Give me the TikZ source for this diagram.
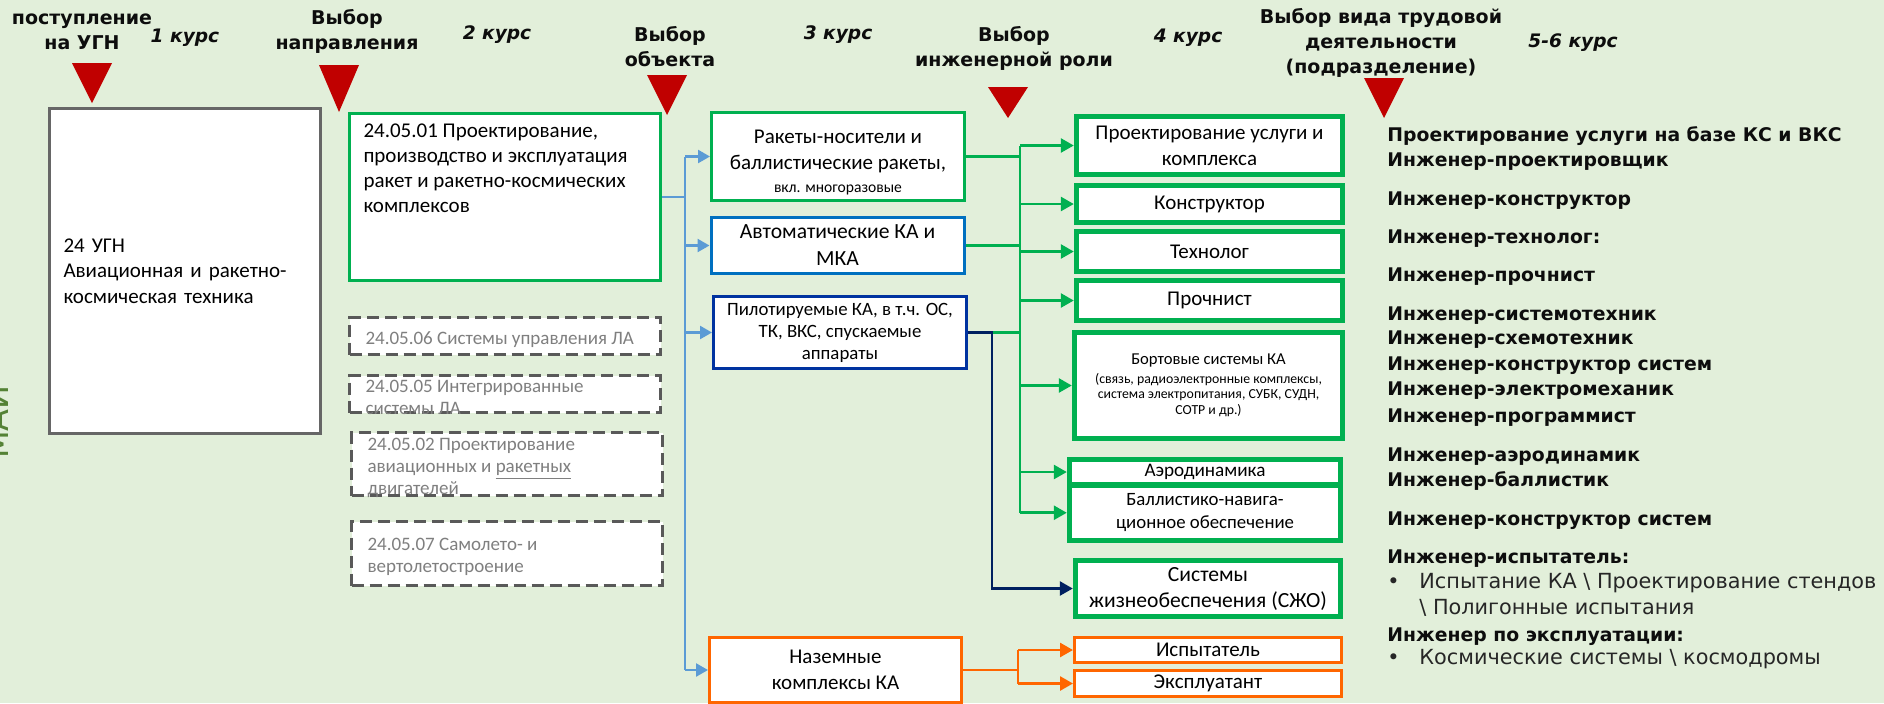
\documentclass[tikz,border=0pt]{standalone}
\usepackage{fontspec}
\setmainfont{Carlito}
\newfontfamily\cgfont{DejaVu Sans}
\usetikzlibrary{
  arrows.meta,
  positioning,
  calc
}
\definecolor{spBack}{HTML}{E2EFDA}
\definecolor{spMark}{HTML}{C00000}
\definecolor{spGreen}{HTML}{00B050}
\definecolor{spBlue}{HTML}{0070C0}
\definecolor{spPilot}{HTML}{0033A0}
\definecolor{spNavy}{HTML}{002060}
\definecolor{spLink}{HTML}{5B9BD5}
\definecolor{spOrange}{HTML}{FF6600}
\definecolor{spGray}{HTML}{666666}
\definecolor{spDash}{HTML}{595959}
\definecolor{spMute}{HTML}{7F7F7F}
\definecolor{spLogo}{HTML}{548235}
\newcommand{\fs}[2]{\fontsize{#1}{#2}\selectfont}
\newcommand{\opttext}[1]{\parbox[c][0pt][c]{139.5pt}{\raggedright\vspace*{6pt}#1}}
\tikzset{
  spbox/.style={
    draw, fill=white, align=center, inner xsep=2pt, inner ysep=1pt,
    font=\fs{10.5}{13}
  },
  ugnbox/.style={spbox, draw=spGray, line width=1.5pt, align=left},
  dirbox/.style={spbox, draw=spGreen, line width=1.5pt},
  optbox/.style={spbox, draw=spDash, line width=1.6pt, dash pattern=on 6pt off 3pt,
    text=spMute, inner xsep=8pt, inner ysep=0pt, minimum width=155.5pt, font=\fs{9.5}{11}},
  objbox/.style={spbox, line width=1.5pt, minimum width=126.5pt},
  rolebox/.style={spbox, draw=spGreen, line width=2.7pt, inner ysep=0pt, minimum width=133pt},
  workbox/.style={spbox, draw=spOrange, line width=1.5pt, inner ysep=0pt, minimum width=133.5pt},
  head/.style={font=\cgfont\bfseries\fs{9.5}{12.5}, align=center, text=black!95},
  year/.style={font=\cgfont\bfseries\itshape\fs{9.3}{12}, text=black!95},
  role/.style={anchor=west, inner sep=0pt, text height=7pt, text depth=2pt,
    font=\cgfont\bfseries\fs{9.4}{12.5}, text=black!95},
  roletxt/.style={role, font=\cgfont\fs{10.4}{12.5}, text=black!85},
  link/.style={line width=1.2pt, draw=spLink},
  linkarr/.style={link, -{Triangle[length=6pt, width=6.5pt]}},
  gline/.style={line width=1.3pt, draw=spGreen},
  garr/.style={gline, -{Triangle[length=6.5pt, width=7pt]}},
  nline/.style={line width=1.3pt, draw=spNavy},
  narr/.style={nline, -{Triangle[length=6.5pt, width=7pt]}},
  oline/.style={line width=1.3pt, draw=spOrange},
  oarr/.style={oline, -{Triangle[length=6.5pt, width=7pt]}}
}
\begin{document}
\begin{tikzpicture}[x=0.5pt, y=-0.5pt]
  \fill[spBack] (0,0) rectangle (1884,703);
  \useasboundingbox (0,0) rectangle (1884,703);

  % stages along the top
  \node[head] (hEnter) at (82,31.5) {поступление\\на УГН};
  \node[year] (y1) at (185,38) {1 курс};
  \node[head] (hDir) at (347,31.5) {Выбор\\направления};
  \node[year] (y2) at (497,35) {2 курс};
  \node[head] (hObj) at (670,46.5) {Выбор\\объекта};
  \node[year] (y3) at (838,35) {3 курс};
  \node[head] (hRole) at (1014,48.5) {Выбор\\инженерной роли};
  \node[year] (y4) at (1188,38) {4 курс};
  \node[head] (hWork) at (1381,42.5) {Выбор вида трудовой\\деятельности\\(подразделение)};
  \node[year] (y56) at (1573,43) {5-6 курс};
  \foreach \x/\t/\b in {92/63/103, 339/65/112, 667/75/115, 1008/87/118, 1384/78/118}
    \fill[spMark] (\x-20,\t) -- (\x+20,\t) -- (\x,\b) -- cycle;

  \node[rotate=90, anchor=base, inner sep=0pt, text=spLogo, font=\cgfont\fs{16}{16}] (logo) at (9,422) {МАИ};

  % first and second year
  \node[ugnbox, minimum width=135.5pt, minimum height=162.5pt, text width=121.5pt,
    inner xsep=7pt, font=\fs{10.5}{12.75}] (ugn) at (185,271)
    {24 УГН\\Авиационная и ракетно-\\космическая техника};
  \node[dirbox, minimum width=155.5pt, minimum height=83.5pt, inner xsep=7pt] (n2401) at (505,197)
    {\fs{10.5}{12.5}\parbox[c][78pt][t]{141.5pt}{\raggedright\vspace*{2.5pt}24.05.01 Проектирование,\\производство и эксплуатация\\ракет и ракетно-космических\\комплексов}};
  \node[optbox, minimum height=18.5pt] (n2406) at (505,336)
    {\opttext{24.05.06 Системы управления ЛА}};
  \node[optbox, minimum height=18.5pt] (n2405) at (505,394)
    {\opttext{24.05.05 Интегрированные\\системы ЛА}};
  \node[optbox, minimum height=31.5pt] (n2402) at (507,464)
    {\opttext{24.05.02 Проектирование\\авиационных и \underline{ракетных}\\двигателей}};
  \node[optbox, minimum height=32pt] (n2407) at (507,553.5)
    {\opttext{24.05.07 Самолето- и\\вертолетостроение}};

  % third year: objects
  \node[objbox, draw=spGreen, minimum height=44pt] (raket) at (838,156.5)
    {\rule{0pt}{13pt}Ракеты-носители и\\баллистические ракеты,\\[-1.5pt]{\fs{7.8}{9}вкл. многоразовые}};
  \node[objbox, draw=spBlue, minimum height=28pt, font=\fs{10.8}{13.5}] (avto) at (837.5,245.5)
    {Автоматические КА и\\МКА};
  \node[objbox, draw=spPilot, minimum height=36pt, font=\fs{9.4}{11}] (pilot) at (840,332.5)
    {Пилотируемые КА, в т.ч. ОС,\\ТК, ВКС, спускаемые\\аппараты};
  \node[objbox, draw=spOrange, minimum width=126pt, minimum height=32.5pt] (nazem) at (835.5,670)
    {Наземные\\комплексы КА};

  % fourth year: roles
  \node[rolebox, minimum height=29pt] (proekt) at (1209.5,145.5) {Проектирование услуги и\\комплекса};
  \node[rolebox, minimum height=18.5pt] (konstr) at (1209.5,204) {Конструктор};
  \node[rolebox, minimum height=20pt] (tekhn) at (1209.5,251.5) {Технолог};
  \node[rolebox, minimum height=20pt] (prochn) at (1209.5,300.5) {Прочнист};
  \node[rolebox, minimum width=134pt, minimum height=53pt, font=\fs{6.9}{7.75}] (bort) at (1208.5,385.5)
    {{\fs{8.3}{10}Бортовые системы КА}\\[1.5pt](связь, радиоэлектронные комплексы,\\система электропитания, СУБК, СУДН,\\СОТР и др.)};
  \node[rolebox, minimum width=135.5pt, minimum height=12.75pt, font=\fs{9.6}{11}] (aero) at (1205,472) {Аэродинамика};
  \node[rolebox, minimum width=135.5pt, minimum height=27.75pt, font=\fs{9.4}{11.5}] (ball) at (1205,512.75)
    {Баллистико-навига-\\ционное обеспечение};
  \node[rolebox, minimum width=132.5pt, minimum height=28pt, font=\fs{10.8}{13}] (szho) at (1208,588.5)
    {Системы\\жизнеобеспечения (СЖО)};
  \node[workbox, minimum height=12.5pt] (ispyt) at (1208,650) {Испытатель};
  \node[workbox, minimum height=13pt] (ekspl) at (1208,683.5) {Эксплуатант};

  % buses
  \coordinate (bbus) at (685,0);
  \coordinate (gbus) at (1020,0);
  \coordinate (nbus) at (992,0);
  \coordinate (obus) at (1018,0);

  \draw[link] (n2401.east) -- (n2401.east -| bbus);
  \draw[link] (bbus |- raket.west) -- (bbus |- nazem.west);
  \foreach \t in {raket,avto,pilot,nazem}
    \draw[linkarr] (bbus |- \t.west) -- (\t.west);

  \foreach \s in {raket,avto,pilot}
    \draw[gline] (\s.east) -- (\s.east -| gbus);
  \draw[gline] (gbus |- proekt.west) -- (gbus |- ball.west);
  \foreach \t in {proekt,konstr,tekhn,prochn,bort,aero,ball}
    \draw[garr] (gbus |- \t.west) -- (\t.west);

  \draw[narr] (pilot.east) -- (pilot.east -| nbus) |- (szho.west);

  \draw[oline] (nazem.east) -- (nazem.east -| obus);
  \draw[oline] (obus |- ispyt.west) -- (obus |- ekspl.west);
  \foreach \t in {ispyt,ekspl}
    \draw[oarr] (obus |- \t.west) -- (\t.west);

  % fifth and sixth year
  \foreach \y/\t [count=\i] in {136/Проектирование услуги на базе КС и ВКС, 161/Инженер-проектировщик,
      200/Инженер-конструктор, 238/Инженер-технолог:, 276/Инженер-прочнист,
      315/Инженер-системотехник, 339/Инженер-схемотехник, 365/Инженер-конструктор систем,
      390/Инженер-электромеханик, 417/Инженер-программист, 456/Инженер-аэродинамик,
      481/Инженер-баллистик, 520/Инженер-конструктор систем, 558/Инженер-испытатель:,
      636/Инженер по эксплуатации:}
    \node[role] (r\i) at (1387,\y) {\t};
  \node[roletxt] (b1) at (1387,583) {\makebox[16pt][l]{•}Испытание КА \textbackslash{} Проектирование стендов};
  \node[roletxt] (b2) at (1419,609) {\textbackslash{} Полигонные испытания};
  \node[roletxt] (b3) at (1387,659) {\makebox[16pt][l]{•}Космические системы \textbackslash{} космодромы};
\end{tikzpicture}
\end{document}
